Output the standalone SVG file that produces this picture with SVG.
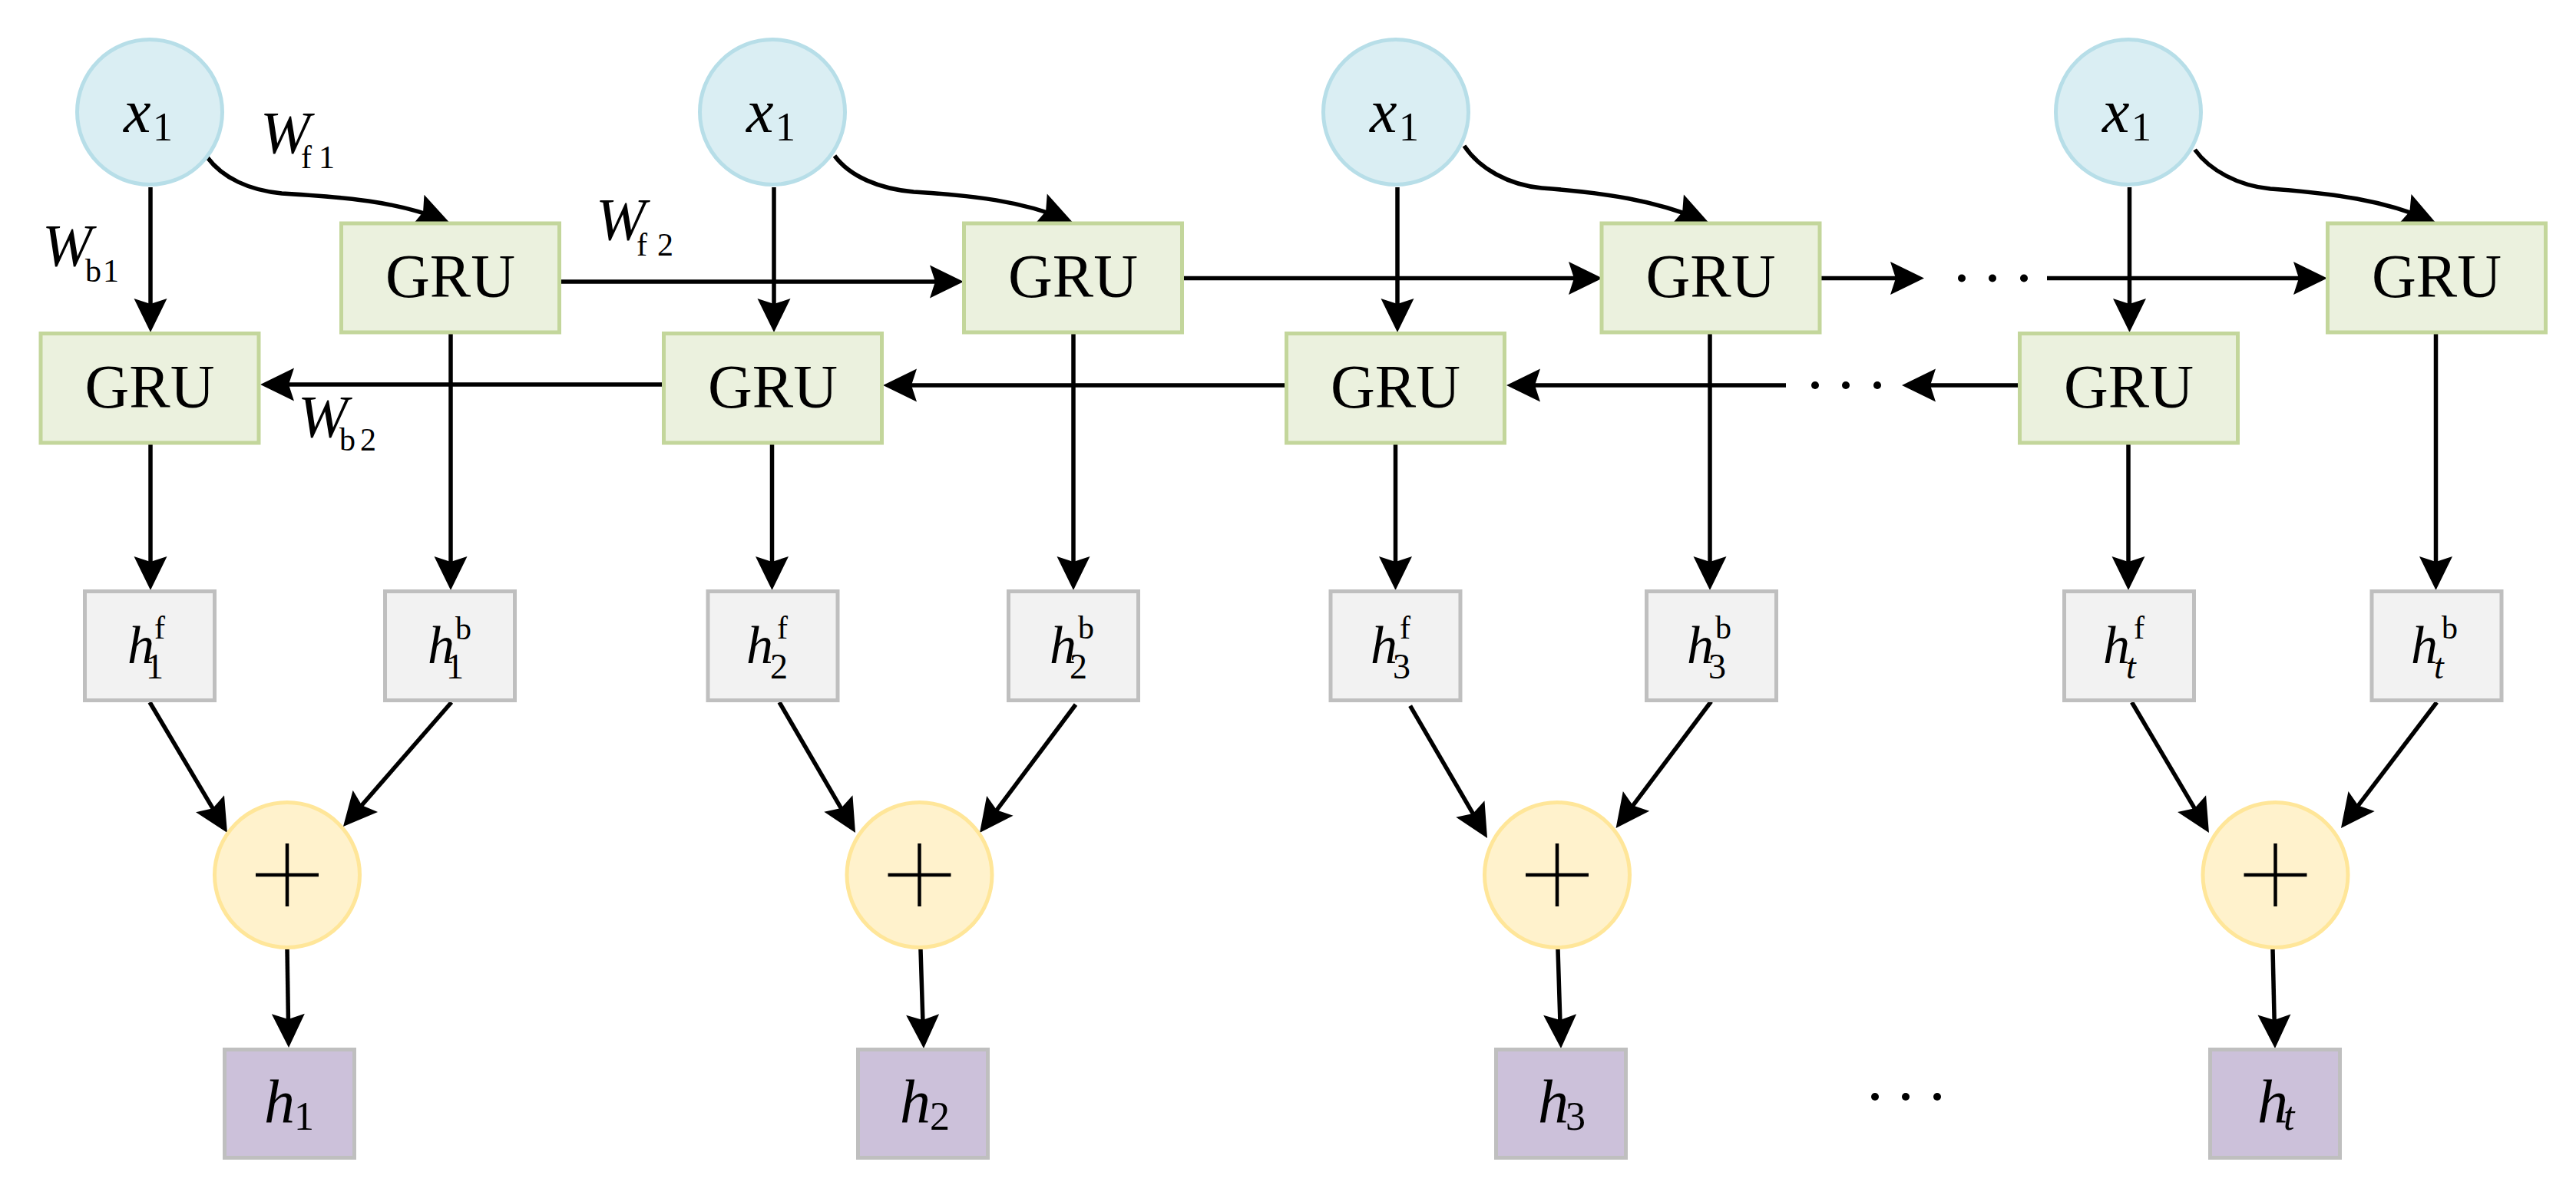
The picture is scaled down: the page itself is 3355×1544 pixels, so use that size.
<svg xmlns="http://www.w3.org/2000/svg" width="3355" height="1544" viewBox="0 0 3355 1544">
<defs>
<style>
.t{font-family:"Liberation Serif","Times New Roman",serif;fill:#000}
.i{font-style:italic}
.inp{fill:#daeef3;stroke:#b7dee8;stroke-width:5}
.gru{fill:#ebf1de;stroke:#c3d69b;stroke-width:5}
.hid{fill:#f2f2f2;stroke:#bfbfbf;stroke-width:5}
.out{fill:#ccc1da;stroke:#bfbfbf;stroke-width:5}
.add{fill:#fff2cc;stroke:#ffe699;stroke-width:5}
.plus{stroke:#000;stroke-width:4.5;fill:none}
.c{stroke:#000;stroke-width:5.5;fill:none;marker-end:url(#ah)}
.g{font-size:80px}
.hm{font-size:70px;font-style:italic}
.sp{font-size:42px}
.sb{font-size:46px}
.om{font-size:80px;font-style:italic}
.os{font-size:52px}
</style>
<marker id="ah" viewBox="0 0 52 44" refX="44" refY="22" markerWidth="52" markerHeight="44" markerUnits="userSpaceOnUse" orient="auto"><path d="M52,22 L8,0.5 L15,22 L8,43.5 Z" fill="#000"/></marker>
</defs>
<rect width="3355" height="1544" fill="#fff"/>

<g id="connectors">
<path class="c" d="M196,244 V425"/>
<path class="c" d="M1008,244 V425"/>
<path class="c" d="M1820,244 V425"/>
<path class="c" d="M2773.5,244 V425"/>
<path class="c" d="M270,205 C290,232 325,248 367,252 C450,257 515,262 578,287"/>
<path class="c" d="M1087,203 C1107,230 1145,246 1190,250 C1270,255 1330,262 1389,286"/>
<path class="c" d="M1907,190 C1927,220 1965,241 2008,245 C2090,251 2155,261 2218,287"/>
<path class="c" d="M2858.6,195 C2878,222 2915,242 2957,246 C3040,252 3105,261 3165,287"/>
<path class="c" d="M731,367 H1247"/>
<path class="c" d="M1542,362.5 H2079"/>
<path class="c" d="M2372,362.5 H2498"/>
<path class="c" d="M2666,362.5 H3023"/>
<path class="c" d="M862,501 H347"/>
<path class="c" d="M1673,502 H1158"/>
<path class="c" d="M2326,502 H1970"/>
<path class="c" d="M2628,502 H2485"/>
<path class="c" d="M196,579 V761"/>
<path class="c" d="M587,435 V761"/>
<path class="c" d="M1005.5,579 V761"/>
<path class="c" d="M1398,435 V761"/>
<path class="c" d="M1817.5,579 V761"/>
<path class="c" d="M2227,435 V761"/>
<path class="c" d="M2772,579 V761"/>
<path class="c" d="M3172.5,435 V761"/>
<path class="c" d="M195,915 L291.9,1078.1"/>
<path class="c" d="M588,915 L452.2,1071"/>
<path class="c" d="M1015,915 L1110,1078.1"/>
<path class="c" d="M1401,918 L1280.8,1078.6"/>
<path class="c" d="M1836.6,919.6 L1933,1085.1"/>
<path class="c" d="M2228.6,914 L2109.4,1072.6"/>
<path class="c" d="M2776.5,915 L2872.9,1078.1"/>
<path class="c" d="M3173.7,915 L3053.8,1072.6"/>
<path class="c" d="M374,1237 L375.9,1357"/>
<path class="c" d="M1199,1237 L1202.75,1358"/>
<path class="c" d="M2029,1237 L2032.75,1358"/>
<path class="c" d="M2960,1237 L2962.8,1358"/>
<g fill="#000">
<circle cx="2555" cy="362.5" r="5"/><circle cx="2595" cy="362.5" r="5"/><circle cx="2636" cy="362.5" r="5"/>
<circle cx="2364" cy="502" r="5"/><circle cx="2404" cy="502" r="5"/><circle cx="2445" cy="502" r="5"/>
<circle cx="2442" cy="1429" r="5"/><circle cx="2482" cy="1429" r="5"/><circle cx="2523" cy="1429" r="5"/>
</g>
<text class="t"><tspan class="i" x="339" y="199" font-size="78">W</tspan><tspan x="392" y="219" font-size="42">f</tspan><tspan x="415" y="219" font-size="42">1</tspan></text>
<text class="t"><tspan class="i" x="55" y="346" font-size="78">W</tspan><tspan x="111" y="367" font-size="42">b</tspan><tspan x="134" y="367" font-size="42">1</tspan></text>
<text class="t"><tspan class="i" x="776" y="312" font-size="78">W</tspan><tspan x="829" y="333" font-size="42">f</tspan><tspan x="856" y="333" font-size="42">2</tspan></text>
<text class="t"><tspan class="i" x="388" y="569" font-size="78">W</tspan><tspan x="442" y="587" font-size="42">b</tspan><tspan x="469" y="587" font-size="42">2</tspan></text>
</g>

<g id="x1_1"><circle class="inp" cx="195" cy="146" r="94.5"/><text class="t"><tspan class="i" x="161" y="172" font-size="80">x</tspan><tspan x="199" y="183" font-size="52">1</tspan></text></g>
<g id="x1_2"><circle class="inp" cx="1006" cy="146" r="94.5"/><text class="t"><tspan class="i" x="972" y="172" font-size="80">x</tspan><tspan x="1010" y="183" font-size="52">1</tspan></text></g>
<g id="x1_3"><circle class="inp" cx="1818" cy="146" r="94.5"/><text class="t"><tspan class="i" x="1784" y="172" font-size="80">x</tspan><tspan x="1822" y="183" font-size="52">1</tspan></text></g>
<g id="x1_4"><circle class="inp" cx="2772" cy="146" r="94.5"/><text class="t"><tspan class="i" x="2738" y="172" font-size="80">x</tspan><tspan x="2776" y="183" font-size="52">1</tspan></text></g>

<g id="gru_f1"><rect class="gru" x="444.5" y="291" width="284" height="142"/><text class="t g" x="586.5" y="387" text-anchor="middle">GRU</text></g>
<g id="gru_f2"><rect class="gru" x="1255.5" y="291" width="284" height="142"/><text class="t g" x="1397.5" y="387" text-anchor="middle">GRU</text></g>
<g id="gru_f3"><rect class="gru" x="2086" y="291" width="284" height="142"/><text class="t g" x="2228" y="387" text-anchor="middle">GRU</text></g>
<g id="gru_f4"><rect class="gru" x="3031.5" y="291" width="284" height="142"/><text class="t g" x="3173.5" y="387" text-anchor="middle">GRU</text></g>
<g id="gru_b1"><rect class="gru" x="53" y="434.5" width="284" height="142.5"/><text class="t g" x="195" y="531" text-anchor="middle">GRU</text></g>
<g id="gru_b2"><rect class="gru" x="864.5" y="434.5" width="284" height="142.5"/><text class="t g" x="1006.5" y="531" text-anchor="middle">GRU</text></g>
<g id="gru_b3"><rect class="gru" x="1675.5" y="434.5" width="284" height="142.5"/><text class="t g" x="1817.5" y="531" text-anchor="middle">GRU</text></g>
<g id="gru_b4"><rect class="gru" x="2630.5" y="434.5" width="284" height="142.5"/><text class="t g" x="2772.5" y="531" text-anchor="middle">GRU</text></g>

<g id="hf1"><rect class="hid" x="110.5" y="770.5" width="169" height="142"/><text class="t"><tspan class="hm" x="166" y="864">h</tspan><tspan class="sp" x="201" y="832">f</tspan><tspan class="sb" x="190" y="884">1</tspan></text></g>
<g id="hb1"><rect class="hid" x="501.5" y="770.5" width="169" height="142"/><text class="t"><tspan class="hm" x="557" y="864">h</tspan><tspan class="sp" x="593" y="833">b</tspan><tspan class="sb" x="581" y="884">1</tspan></text></g>
<g id="hf2"><rect class="hid" x="922" y="770.5" width="169" height="142"/><text class="t"><tspan class="hm" x="972" y="864">h</tspan><tspan class="sp" x="1012" y="832">f</tspan><tspan class="sb" x="1003" y="884">2</tspan></text></g>
<g id="hb2"><rect class="hid" x="1313.5" y="770.5" width="169" height="142"/><text class="t"><tspan class="hm" x="1367" y="864">h</tspan><tspan class="sp" x="1404" y="832">b</tspan><tspan class="sb" x="1393" y="884">2</tspan></text></g>
<g id="hf3"><rect class="hid" x="1733" y="770.5" width="169" height="142"/><text class="t"><tspan class="hm" x="1785" y="864">h</tspan><tspan class="sp" x="1823" y="832">f</tspan><tspan class="sb" x="1814" y="884">3</tspan></text></g>
<g id="hb3"><rect class="hid" x="2144.5" y="770.5" width="169" height="142"/><text class="t"><tspan class="hm" x="2197" y="864">h</tspan><tspan class="sp" x="2234" y="832">b</tspan><tspan class="sb" x="2225" y="884">3</tspan></text></g>
<g id="hft"><rect class="hid" x="2688.5" y="770.5" width="169" height="142"/><text class="t"><tspan class="hm" x="2739" y="864">h</tspan><tspan class="sp" x="2779" y="832">f</tspan><tspan class="sb i" x="2769" y="884">t</tspan></text></g>
<g id="hbt"><rect class="hid" x="3089" y="770.5" width="169" height="142"/><text class="t"><tspan class="hm" x="3140" y="864">h</tspan><tspan class="sp" x="3180" y="832">b</tspan><tspan class="sb i" x="3170" y="884">t</tspan></text></g>

<g id="add1"><circle class="add" cx="374" cy="1140" r="94.5"/><path class="plus" d="M333,1140 H415 M374,1099 V1181"/></g>
<g id="add2"><circle class="add" cx="1197.5" cy="1140" r="94.5"/><path class="plus" d="M1156.5,1140 H1238.5 M1197.5,1099 V1181"/></g>
<g id="add3"><circle class="add" cx="2028" cy="1140" r="94.5"/><path class="plus" d="M1987,1140 H2069 M2028,1099 V1181"/></g>
<g id="add4"><circle class="add" cx="2963.5" cy="1140" r="94.5"/><path class="plus" d="M2922.5,1140 H3004.5 M2963.5,1099 V1181"/></g>

<g id="h1"><rect class="out" x="292.5" y="1367.5" width="169" height="141"/><text class="t"><tspan class="om" x="344" y="1462">h</tspan><tspan class="os" x="383" y="1472">1</tspan></text></g>
<g id="h2"><rect class="out" x="1117.5" y="1367.5" width="169" height="141"/><text class="t"><tspan class="om" x="1172" y="1462">h</tspan><tspan class="os" x="1211" y="1472">2</tspan></text></g>
<g id="h3"><rect class="out" x="1948.5" y="1367.5" width="169" height="141"/><text class="t"><tspan class="om" x="2003" y="1462">h</tspan><tspan class="os" x="2039" y="1472">3</tspan></text></g>
<g id="ht"><rect class="out" x="2878.5" y="1367.5" width="169" height="141"/><text class="t"><tspan class="om" x="2940" y="1462">h</tspan><tspan class="os i" x="2974" y="1472">t</tspan></text></g>
</svg>
